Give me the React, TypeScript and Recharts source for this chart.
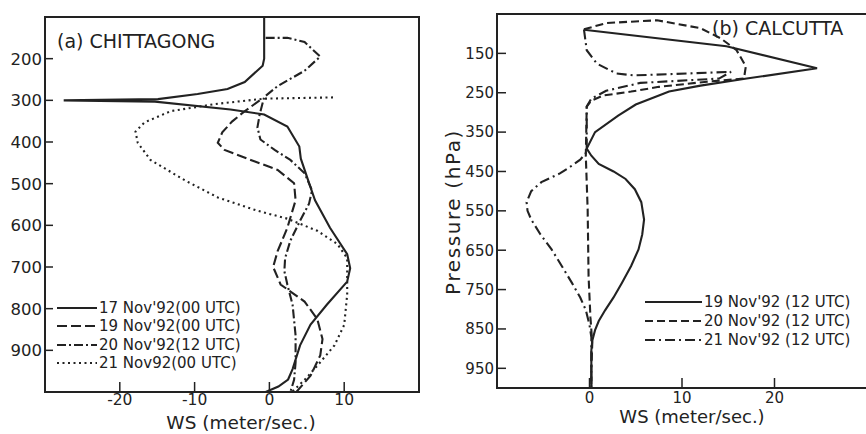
import { ScatterChart, Scatter, XAxis, YAxis, ReferenceArea, Legend } from 'recharts'

const INK = '#222'
const FONT = '"DejaVu Sans", Verdana, sans-serif'

// (a) Chittagong: pressure (hPa) and wind speed (m/s) for each sounding
const pres17 = [100, 200, 217, 256, 273, 285, 297, 300, 303, 322, 334, 363, 411, 440, 509, 540, 606, 669, 703, 735, 790, 838, 888, 945, 970, 987, 1000]
const ws17 = [-0.7, -0.7, -0.9, -3.3, -5.6, -9.6, -14.9, -27.5, -15.3, -5.2, -0.7, 2.4, 4.0, 4.2, 5.5, 6.1, 8.1, 10.4, 10.8, 10.4, 7.7, 5.5, 4.1, 3.1, 2.5, 1.2, -0.5]

const pres19 = [300, 329, 351, 377, 402, 419, 443, 467, 499, 540, 606, 662, 700, 742, 783, 825, 873, 912, 961, 1000]
const ws19 = [-1.3, -3.5, -5.0, -6.3, -6.9, -6.0, -2.5, 1.1, 3.3, 3.5, 2.4, 1.1, 0.5, 1.5, 4.7, 6.4, 7.1, 6.8, 5.5, 3.6]

const pres20 = [150, 150, 160, 195, 229, 266, 292, 334, 365, 394, 419, 443, 475, 516, 548, 589, 637, 679, 710, 742, 791, 864, 929, 971, 1000]
const ws20 = [-0.5, 2.4, 4.7, 6.8, 4.7, 1.1, -0.7, -1.3, -1.6, -1.2, 0.7, 2.8, 4.7, 5.7, 5.3, 4.1, 2.8, 2.1, 2.0, 2.4, 3.1, 3.5, 3.5, 3.3, 2.8]

const pres21 = [293, 296, 309, 326, 353, 375, 402, 443, 492, 533, 565, 584, 613, 645, 679, 710, 766, 839, 888, 937, 971, 1000]
const ws21 = [8.5, -0.7, -7.3, -13.2, -16.7, -17.9, -17.6, -15.9, -11.3, -6.9, -1.6, 2.4, 6.4, 9.1, 10.4, 10.4, 10.4, 10.0, 8.7, 6.4, 4.7, 3.0]

const chittagongNames = ["17 Nov'92(00 UTC)", "19 Nov'92(00 UTC)", "20 Nov'92(12 UTC)", '21 Nov92(00 UTC)']
const chittagongWsTicks = [-20, -10, 0, 10]
const chittagongPresTicks = [200, 300, 400, 500, 600, 700, 800, 900]

// (b) Calcutta
const presB19 = [90, 132, 188, 214, 232, 247, 257, 280, 308, 350, 392, 410, 431, 450, 469, 495, 528, 572, 610, 648, 690, 733, 770, 802, 830, 853, 880, 904, 1000]
const wsB19 = [-0.6, 14.8, 24.6, 17.0, 12.0, 8.6, 7.5, 5.0, 3.1, 0.6, -0.3, 0.2, 1.0, 2.6, 3.9, 4.9, 5.6, 5.9, 5.7, 5.3, 4.5, 3.5, 2.6, 1.7, 1.0, 0.6, 0.3, 0.2, 0.2]

const presB20 = [89, 73, 66, 86, 112, 142, 183, 214, 222, 235, 247, 257, 270, 285, 410, 546, 717, 820, 886, 950, 1000]
const wsB20 = [-0.6, 1.8, 7.3, 12.0, 14.2, 15.9, 16.9, 16.7, 12.7, 7.5, 4.5, 1.5, 0.2, -0.3, -0.4, -0.2, -0.1, 0.1, 0.3, 0.2, 0.2]

const presB21 = [89, 142, 176, 201, 206, 197, 214, 225, 245, 265, 285, 329, 400, 420, 440, 455, 477, 500, 528, 550, 572, 610, 648, 690, 733, 770, 802, 840, 871, 1000]
const wsB21 = [-0.6, -0.3, 0.8, 2.9, 4.8, 15.3, 14.0, 5.5, 1.8, 0.2, -0.3, -0.3, -0.3, -1.0, -2.2, -3.2, -5.2, -6.3, -6.8, -6.7, -6.3, -5.3, -4.1, -3.0, -1.9, -1.0, -0.4, 0.0, 0.2, 0.2]

const calcuttaNames = ["19 Nov'92 (12 UTC)", "20 Nov'92 (12 UTC)", "21 Nov'92 (12 UTC)"]
const calcuttaWsTicks = [0, 10, 20]
const calcuttaPresTicks = [150, 250, 350, 450, 550, 650, 750, 850, 950]

type Pt = { p: number; ws: number }
type Series = { name: string; data: Pt[]; dash?: string }

const toPoints = (pres: number[], ws: number[]): Pt[] => pres.map((p, i) => ({ p, ws: ws[i] }))

const SOLID = undefined
const DASHED = '10 4'
const DASH_DOT = '9 3 2 3'
const DOTTED = '2 3.5'

const chittagongSeries: Series[] = [
  { name: chittagongNames[0], data: toPoints(pres17, ws17), dash: SOLID },
  { name: chittagongNames[1], data: toPoints(pres19, ws19), dash: DASHED },
  { name: chittagongNames[2], data: toPoints(pres20, ws20), dash: DASH_DOT },
  { name: chittagongNames[3], data: toPoints(pres21, ws21), dash: DOTTED },
]

const calcuttaSeries: Series[] = [
  { name: calcuttaNames[0], data: toPoints(presB19, wsB19), dash: SOLID },
  { name: calcuttaNames[1], data: toPoints(presB20, wsB20), dash: '8 4' },
  { name: calcuttaNames[2], data: toPoints(presB21, wsB21), dash: '10 4 2 4' },
]

const noDot = () => <g />

function ProfileLegend({ items, sample, rowHeight }: { items: Series[]; sample: number; rowHeight: number }) {
  return (
    <div style={{ fontFamily: FONT, fontSize: 15, color: INK }}>
      {items.map((s) => (
        <div key={s.name} style={{ display: 'flex', alignItems: 'center', height: rowHeight }}>
          <svg width={sample} height={8} style={{ display: 'block' }}>
            <line x1={0} y1={4} x2={sample} y2={4} stroke={INK} strokeWidth={1.8} strokeDasharray={s.dash} />
          </svg>
          <span style={{ marginLeft: 2, whiteSpace: 'nowrap' }}>{s.name}</span>
        </div>
      ))}
    </div>
  )
}

function wsTitle(dx: number, dy: number, size: number) {
  return (props: any) => {
    const vb = props.viewBox ?? { x: 0, y: 0, width: 0, height: 0 }
    return (
      <text x={vb.x + vb.width / 2 + dx} y={vb.y + dy} textAnchor="middle" fontSize={size} fontFamily={FONT} fill={INK}>
        WS (meter/sec.)
      </text>
    )
  }
}

function PressureTitle(props: any) {
  const vb = props.viewBox ?? { x: 0, y: 0, width: 0, height: 0 }
  const cx = vb.x + 23
  const cy = vb.y + vb.height / 2 + 11
  return (
    <text
      x={cx}
      y={cy}
      transform={`rotate(-90 ${cx} ${cy})`}
      textAnchor="middle"
      dominantBaseline="central"
      fontSize={20}
      letterSpacing={1.6}
      fontFamily={FONT}
      fill={INK}
    >
      Pressure (hPa)
    </text>
  )
}

export default function App() {
  return (
    <div style={{ position: 'absolute', left: 0, top: 0, width: 866, height: 434, overflow: 'hidden', background: '#fff' }}>
      {/* (a) Chittagong */}
      <div style={{ position: 'absolute', left: 0, top: 0 }}>
        <ScatterChart width={440} height={434} margin={{ top: 17, right: 21, bottom: 0, left: 0 }}>
          <XAxis
            type="number"
            dataKey="ws"
            domain={[-30, 20]}
            ticks={chittagongWsTicks}
            allowDataOverflow
            height={42}
            tickSize={-10}
            tickMargin={12}
            tick={{ fontSize: 15.5, fill: INK, fontFamily: FONT }}
            axisLine={{ stroke: INK, strokeWidth: 2 }}
            tickLine={{ stroke: INK, strokeWidth: 1.5 }}
            label={{ content: wsTitle(9, 37, 18.5) }}
          />
          <YAxis
            type="number"
            dataKey="p"
            domain={[100, 1000]}
            reversed
            ticks={chittagongPresTicks}
            allowDataOverflow
            width={45}
            tickSize={-8}
            tickMargin={11}
            tick={{ fontSize: 16.5, fill: INK, fontFamily: FONT }}
            axisLine={{ stroke: INK, strokeWidth: 2 }}
            tickLine={{ stroke: INK, strokeWidth: 1.5 }}
          />
          <ReferenceArea x1={-30} x2={20} y1={100} y2={1000} fill="none" stroke={INK} strokeWidth={2} ifOverflow="visible" />
          {chittagongSeries.map((s) => (
            <Scatter
              key={s.name}
              name={s.name}
              data={s.data}
              fill={INK}
              shape={noDot}
              line={{ stroke: INK, strokeWidth: 2.1, strokeDasharray: s.dash }}
              lineType="joint"
              isAnimationActive={false}
            />
          ))}
          <Legend
            layout="vertical"
            align="center"
            verticalAlign="middle"
            content={() => <ProfileLegend items={chittagongSeries} sample={40} rowHeight={18.3} />}
            wrapperStyle={{ left: 57, top: 299, width: 'auto' }}
          />
        </ScatterChart>
        <div style={{ position: 'absolute', left: 57, top: 32, fontFamily: FONT, fontSize: 19, lineHeight: '19px', color: INK, whiteSpace: 'nowrap' }}>
          (a) CHITTAGONG
        </div>
      </div>

      {/* (b) Calcutta */}
      <div style={{ position: 'absolute', left: 430, top: 0 }}>
        <ScatterChart width={440} height={434} margin={{ top: 14, right: 3, bottom: 0, left: 0 }}>
          <XAxis
            type="number"
            dataKey="ws"
            domain={[-10, 30]}
            ticks={calcuttaWsTicks}
            allowDataOverflow
            height={46}
            tickSize={-10}
            tickMargin={14}
            tick={{ fontSize: 15, fill: INK, fontFamily: FONT }}
            axisLine={{ stroke: INK, strokeWidth: 2 }}
            tickLine={{ stroke: INK, strokeWidth: 1.5 }}
            label={{ content: wsTitle(10, 35, 18) }}
          />
          <YAxis
            type="number"
            dataKey="p"
            domain={[50, 1000]}
            reversed
            ticks={calcuttaPresTicks}
            allowDataOverflow
            width={67}
            tickSize={-9}
            tickMargin={12}
            tick={{ fontSize: 15, fill: INK, fontFamily: FONT }}
            axisLine={{ stroke: INK, strokeWidth: 2 }}
            tickLine={{ stroke: INK, strokeWidth: 1.5 }}
            label={{ content: PressureTitle }}
          />
          <ReferenceArea x1={-10} x2={30} y1={50} y2={1000} fill="none" stroke={INK} strokeWidth={2} ifOverflow="visible" />
          {calcuttaSeries.map((s) => (
            <Scatter
              key={s.name}
              name={s.name}
              data={s.data}
              fill={INK}
              shape={noDot}
              line={{ stroke: INK, strokeWidth: 2.1, strokeDasharray: s.dash }}
              lineType="joint"
              isAnimationActive={false}
            />
          ))}
          <Legend
            layout="vertical"
            align="center"
            verticalAlign="middle"
            content={() => <ProfileLegend items={calcuttaSeries} sample={57} rowHeight={19} />}
            wrapperStyle={{ left: 215, top: 292, width: 'auto' }}
          />
        </ScatterChart>
        <div style={{ position: 'absolute', left: 282, top: 19, fontFamily: FONT, fontSize: 19, lineHeight: '19px', color: INK, whiteSpace: 'nowrap' }}>
          (b) CALCUTTA
        </div>
      </div>
    </div>
  )
}
